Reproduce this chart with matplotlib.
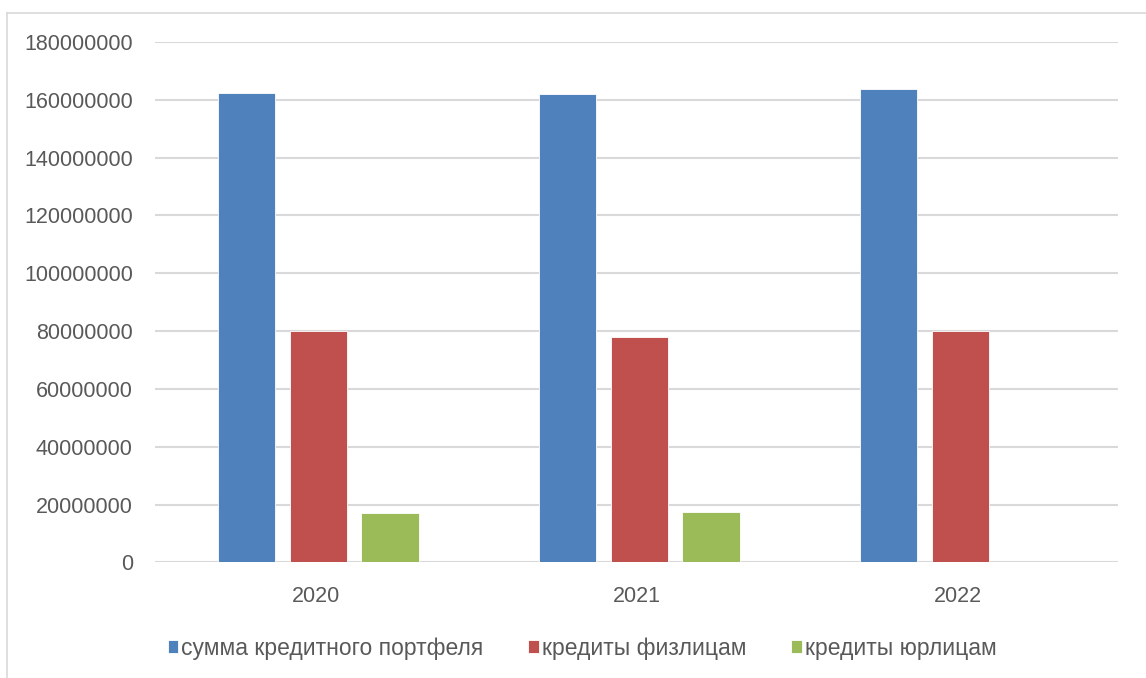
import numpy as np
import matplotlib.pyplot as plt
from matplotlib.lines import Line2D

plt.rcParams['font.family'] = ['Liberation Sans', 'DejaVu Sans']

# data
years = ['2020', '2021', '2022']
series_names = ['сумма кредитного портфеля', 'кредиты физлицам', 'кредиты юрлицам']
total = [162500000, 162000000, 163700000]
individuals = [79900000, 78000000, 80000000]
companies = [17100000, 17400000, 0]

colors = ['#4F81BD', '#C0504D', '#9BBB59']
grey_text = '#595959'

fig = plt.figure(figsize=(11.46, 6.78), dpi=100)
ax = fig.add_axes([0.1353, 0.1706, 0.8403, 0.7674])

x = np.arange(len(years))
w = 0.178
step = 0.224
for i, (vals, name) in enumerate(zip([total, individuals, companies], series_names)):
    ax.bar(x + 0.008 + (i - 1) * step, vals, width=w, color=colors[i], label=name,
           edgecolor='white', linewidth=0.6, zorder=3)

ax.set_xlim(-0.5, 2.5)
ax.set_ylim(0, 180000000)
ax.set_yticks(np.arange(0, 180000001, 20000000))
ax.yaxis.set_major_formatter(plt.FuncFormatter(lambda v, p: '%d' % v))
ax.set_xticks(x)
ax.set_xticklabels(years)

ax.grid(axis='y', color='#D9D9D9', linewidth=1.5, zorder=0)
for s in ['top', 'right', 'left', 'bottom']:
    ax.spines[s].set_visible(False)
ax.tick_params(axis='both', length=0, colors=grey_text, labelsize=15.5)
ax.tick_params(axis='y', pad=16)
ax.tick_params(axis='x', pad=17)

fig.legend(loc='center', bbox_to_anchor=(0.508, 0.044), ncol=3, frameon=False,
           fontsize=16.5, handlelength=0.45, handleheight=0.45, handletextpad=0.15,
           columnspacing=1.95, labelcolor=grey_text)

# light chart border (top and left edges visible)
fig.add_artist(Line2D([7 / 1146, 1], [1 - 13 / 678, 1 - 13 / 678], color='#D9D9D9',
                      linewidth=1.2, transform=fig.transFigure))
fig.add_artist(Line2D([7 / 1146, 7 / 1146], [0, 1 - 13 / 678], color='#D9D9D9',
                      linewidth=1.2, transform=fig.transFigure))

fig.savefig('out.png', dpi=100)
